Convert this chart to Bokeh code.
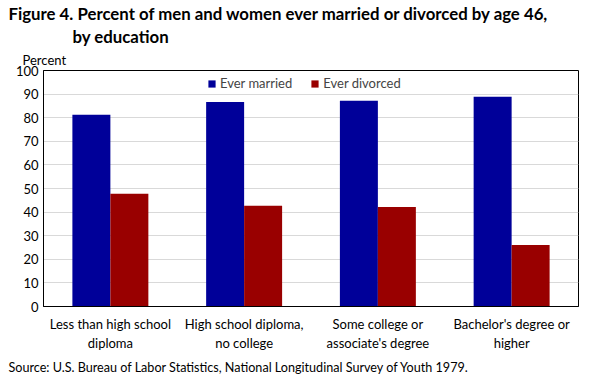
from bokeh.plotting import figure
from bokeh.models import Legend, LegendItem, ColumnDataSource, FactorRange, Title
from bokeh.transform import dodge
from bokeh.embed import file_html
from bokeh.resources import INLINE

categories = ["Less than high school\ndiploma", "High school diploma,\nno college",
              "Some college or\nassociate's degree", "Bachelor's degree or\nhigher"]
ever_married = [81.2, 86.7, 87.2, 88.9]
ever_divorced = [47.8, 42.7, 42.2, 26.1]
y_ticks = [0, 10, 20, 30, 40, 50, 60, 70, 80, 90, 100]

FONT = "Lato"
BLUE = "#000099"
RED = "#990000"

src = ColumnDataSource(dict(cat=categories, married=ever_married, divorced=ever_divorced))

p = figure(x_range=FactorRange(*categories), y_range=(0, 100),
           frame_width=535, frame_height=236,
           output_backend="svg", toolbar_location=None,
           min_border_left=35, min_border_right=18, min_border_top=64, min_border_bottom=70)
p.x_range.range_padding = 0
p.x_range.factor_padding = 0

bw = 0.284
r1 = p.vbar(x=dodge("cat", -bw / 2, range=p.x_range), top="married", width=bw, source=src,
            fill_color=BLUE, line_color=None)
r2 = p.vbar(x=dodge("cat", bw / 2, range=p.x_range), top="divorced", width=bw, source=src,
            fill_color=RED, line_color=None)

legend = Legend(items=[LegendItem(label="Ever married", renderers=[r1]),
                       LegendItem(label="Ever divorced", renderers=[r2])],
                orientation="horizontal", location=(164, 215),
                border_line_color=None, background_fill_alpha=0,
                label_text_font=FONT, label_text_font_size="13px",
                glyph_width=9, glyph_height=9, spacing=18, padding=4, margin=0,
                label_standoff=4)
p.add_layout(legend, "center")

p.outline_line_color = "black"
p.outline_line_width = 1
p.xgrid.grid_line_color = None
p.ygrid.grid_line_color = "#d9d9d9"
p.ygrid.ticker = y_ticks
p.yaxis.ticker = y_ticks
p.yaxis.major_tick_line_color = None
p.yaxis.minor_tick_line_color = None
p.yaxis.major_tick_out = 0
p.yaxis.axis_line_color = "black"
p.yaxis.major_label_text_font = FONT
p.yaxis.major_label_text_font_size = "13px"
p.yaxis.major_label_text_color = "black"
p.yaxis.major_label_standoff = 5
p.yaxis.axis_label = " "
p.yaxis.axis_label_text_font_size = "1px"
p.yaxis.axis_label_standoff = 8
p.xaxis.major_tick_line_color = None
p.xaxis.major_tick_out = 0
p.xaxis.axis_line_color = "black"
p.xaxis.major_label_text_font = FONT
p.xaxis.major_label_text_font_size = "13px"
p.xaxis.major_label_text_line_height = 1.2
p.xaxis.major_label_text_color = "black"
p.xaxis.major_label_standoff = 9

def title(text, where, offset, size="13px", bold=False, standoff=0):
    t = Title(text=text, align="left", offset=offset, text_font=FONT,
              text_font_size=size, text_font_style="bold" if bold else "normal",
              text_color="black", standoff=standoff)
    p.add_layout(t, where)

title("Percent", "above", -21, standoff=6)
title("by education", "above", 29, "16.8px", True)
title("Figure 4. Percent of men and women ever married or divorced by age 46,", "above", -35, "16.8px", True)
title("Source: U.S. Bureau of Labor Statistics, National Longitudinal Survey of Youth 1979.",
      "below", -35, "12.6px", standoff=8)

open("out.html", "w").write(file_html(p, INLINE))
